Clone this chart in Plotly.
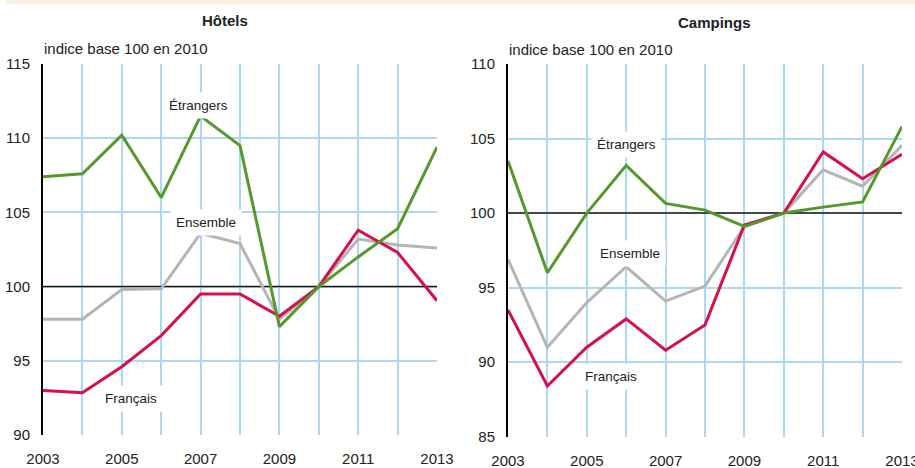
import plotly.graph_objects as go

years = list(range(2003, 2014))
year_labels = [str(y) if y % 2 == 1 else "" for y in years]

hotels_etrangers = [107.4, 107.6, 110.2, 106.0, 111.5, 109.5, 97.3, 100.0, 102.0, 103.9, 109.4]
hotels_ensemble = [97.8, 97.8, 99.8, 99.85, 103.6, 102.9, 97.8, 100.0, 103.2, 102.8, 102.6]
hotels_francais = [93.0, 92.85, 94.6, 96.7, 99.5, 99.5, 98.0, 100.0, 103.8, 102.3, 99.05]

camp_etrangers = [103.5, 96.0, 100.0, 103.2, 100.65, 100.2, 99.1, 100.0, 100.4, 100.75, 105.8]
camp_ensemble = [96.9, 91.0, 94.0, 96.4, 94.1, 95.1, 99.1, 100.0, 102.9, 101.8, 104.55]
camp_francais = [93.5, 88.4, 91.0, 92.9, 90.8, 92.5, 99.2, 100.0, 104.1, 102.3, 103.95]

base_value = 100

GREEN = "#55992b"
GREY = "#b5b5b7"
RED = "#d3124c"
GRID = "#acd8f3"
FONT = "Liberation Sans, Arial, sans-serif"

W, H = 915, 468


def px(x):
    return x / W


def py(y):
    return 1 - y / H


fig = go.Figure()

panels = [
    ("x", "y", hotels_etrangers, hotels_ensemble, hotels_francais),
    ("x2", "y2", camp_etrangers, camp_ensemble, camp_francais),
]
for xa, ya, etr, ens, fra in panels:
    # base-100 reference line
    fig.add_trace(go.Scatter(x=[years[0], years[-1]], y=[base_value, base_value], xaxis=xa, yaxis=ya,
                             mode="lines", line=dict(color="#1a1a1a", width=1.5), showlegend=False,
                             hoverinfo="skip"))
    for vals, col in [(ens, GREY), (fra, RED), (etr, GREEN)]:
        fig.add_trace(go.Scatter(x=years, y=vals, xaxis=xa, yaxis=ya, mode="lines",
                                 line=dict(color=col, width=3), showlegend=False,
                                 hoverinfo="skip", cliponaxis=False))

axis_common = dict(showgrid=True, gridcolor=GRID, gridwidth=1.5, zeroline=False, automargin=False,
                   ticklabeloverflow="allow",
                   tickfont=dict(family=FONT, size=15, color="#222"))

fig.update_layout(
    width=W, height=H,
    margin=dict(l=0, r=0, t=0, b=0, autoexpand=False),
    paper_bgcolor="white", plot_bgcolor="white",
    font=dict(family=FONT, color="#222"),
    xaxis=dict(domain=[px(43), px(437)], range=[2003, 2013], tickvals=years, ticktext=year_labels,
               anchor="y", ticks="outside", ticklen=10, tickcolor="rgba(0,0,0,0)", showline=False,
               **axis_common),
    yaxis=dict(domain=[py(435), py(64)], range=[90, 115], dtick=5, anchor="x",
               ticks="outside", ticklen=8, tickcolor="rgba(0,0,0,0)",
               showline=True, linecolor="black", linewidth=2, **axis_common),
    xaxis2=dict(domain=[px(508), px(902)], range=[2003, 2013], tickvals=years, ticktext=year_labels,
                anchor="y2", ticks="outside", ticklen=10, tickcolor="rgba(0,0,0,0)", showline=False,
                **axis_common),
    yaxis2=dict(domain=[py(436.7), py(64)], range=[85, 110], dtick=5, anchor="x2",
                ticks="outside", ticklen=8, tickcolor="rgba(0,0,0,0)",
                showline=True, linecolor="black", linewidth=2, **axis_common),
)

# peach band at top
fig.add_shape(type="rect", xref="paper", yref="paper", x0=px(6), x1=1, y0=py(4), y1=1,
              fillcolor="#fdf1e6", line=dict(width=0), layer="below")

for txt, x, y in [("<b>Hôtels</b>", 224.5, 21), ("<b>Campings</b>", 714, 22)]:
    fig.add_annotation(text=txt, xref="paper", yref="paper", x=px(x), y=py(y),
                       showarrow=False, font=dict(family=FONT, size=15, color="#222"),
                       xanchor="center", yanchor="middle")

for txt, x, y in [("indice base 100 en 2010", 41.5, 49), ("indice base 100 en 2010", 506.5, 50)]:
    fig.add_annotation(text=txt, xref="paper", yref="paper", x=px(x), y=py(y), showarrow=False,
                       font=dict(family=FONT, size=15, color="#222"), xanchor="left", yanchor="middle")

labels = [
    ("Étrangers", 198, 106), ("Ensemble", 205.5, 222), ("Français", 131, 398),
    ("Étrangers", 626.7, 144.5), ("Ensemble", 629.5, 254), ("Français", 611, 376),
]
for txt, x, y in labels:
    fig.add_annotation(text=txt, xref="paper", yref="paper", x=px(x), y=py(y), showarrow=False,
                       font=dict(family=FONT, size=13.5, color="#222"), xanchor="center",
                       yanchor="middle", bgcolor="white", borderpad=5)

fig.write_html("out.html", config={"displayModeBar": False},
               post_script="document.body.style.margin='0';document.body.style.padding='0';")
